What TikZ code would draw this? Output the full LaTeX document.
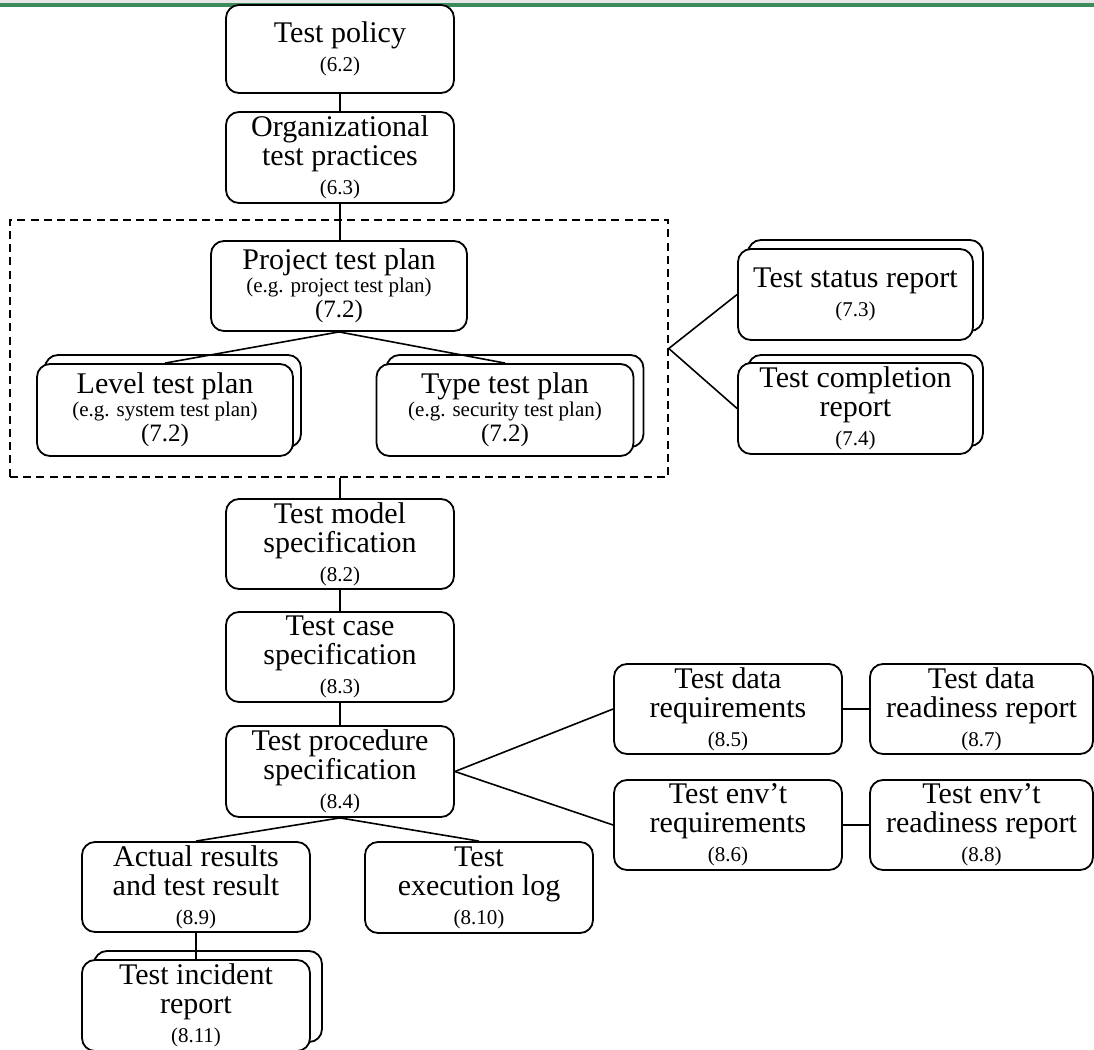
\documentclass[tikz,border=0pt]{standalone}
\usepackage{fontspec}
\setmainfont{Liberation Serif}
\newcommand{\smf}[1]{{\fontsize{10.5}{11}\selectfont #1}}
\newcommand{\mdf}[1]{{\fontsize{12.5}{13}\selectfont #1}}
\definecolor{topgreen}{HTML}{3D8B5A}
\definecolor{topgrey}{HTML}{E6E6E6}
\tikzset{
  docbox/.style={draw, line width=0.9pt, rounded corners=6.5pt, fill=white,
    align=center, inner sep=1pt, font=\fontsize{15}{14.5}\selectfont},
  backbox/.style={draw, line width=0.9pt, rounded corners=6.5pt, fill=white},
  conn/.style={line width=0.8pt},
  groupbox/.style={draw, line width=0.8pt, dash pattern=on 4pt off 2.6pt},
}
\begin{document}
\begin{tikzpicture}[x=0.5pt,y=-0.5pt]
\useasboundingbox (0,0) rectangle (1094,1050);
\clip (0,0) rectangle (1094,1050);
% top rule
\fill[topgrey] (0,0) rectangle (1094,2.5);
\fill[topgreen] (0,2.5) rectangle (1094,6.5);

% dashed group
\node[groupbox, minimum width=329pt, minimum height=128.5pt] (plans) at (339,348.5) {};

% back boxes of stacks
\node[backbox, minimum width=128pt, minimum height=46pt] (lvlb) at (173,401) {};
\node[backbox, minimum width=128.5pt, minimum height=46pt] (typb) at (515,401) {};
\node[backbox, minimum width=117.5pt, minimum height=45.5pt] (tsrb) at (865.5,285.5) {};
\node[backbox, minimum width=117.5pt, minimum height=45.5pt] (tcrb) at (865.5,400.5) {};
\node[backbox, minimum width=114pt, minimum height=45.5pt] (incb) at (208,996.5) {};

% boxes
\node[docbox, minimum width=114pt, minimum height=44pt] (pol) at (340,49) {Test policy\\\smf{(6.2)}};
\node[docbox, minimum width=114pt, minimum height=45.5pt] (org) at (340,157.5) {Organizational\\test practices\\\smf{(6.3)}};
\node[docbox, minimum width=128pt, minimum height=45pt] (ptp) at (339,286) {Project test plan\\[-3pt]\smf{(e.g. project test plan)}\\[-2pt]\mdf{(7.2)}};
\node[docbox, minimum width=128pt, minimum height=46pt] (lvl) at (165,410) {Level test plan\\[-3pt]\smf{(e.g. system test plan)}\\[-2pt]\mdf{(7.2)}};
\node[docbox, minimum width=128.5pt, minimum height=46pt] (typ) at (505,410) {Type test plan\\[-3pt]\smf{(e.g. security test plan)}\\[-2pt]\mdf{(7.2)}};
\node[docbox, minimum width=117.5pt, minimum height=45.5pt] (tsr) at (855.5,294.5) {Test status report\\\smf{(7.3)}};
\node[docbox, minimum width=117.5pt, minimum height=45.5pt] (tcr) at (855.5,408.5) {Test completion\\report\\\smf{(7.4)}};
\node[docbox, minimum width=114pt, minimum height=45pt] (tms) at (340,544) {Test model\\specification\\\smf{(8.2)}};
\node[docbox, minimum width=114pt, minimum height=45pt] (tcs) at (340,657) {Test case\\specification\\\smf{(8.3)}};
\node[docbox, minimum width=114pt, minimum height=45.5pt] (tps) at (340,771.5) {Test procedure\\specification\\\smf{(8.4)}};
\node[docbox, minimum width=114pt, minimum height=45pt] (tdr) at (728,709) {Test data\\requirements\\\smf{(8.5)}};
\node[docbox, minimum width=111.5pt, minimum height=45pt] (tdrr) at (981.5,709) {Test data\\readiness report\\\smf{(8.7)}};
\node[docbox, minimum width=114pt, minimum height=45pt] (ter) at (728,825) {Test env’t\\requirements\\\smf{(8.6)}};
\node[docbox, minimum width=111.5pt, minimum height=45pt] (terr) at (981.5,825) {Test env’t\\readiness report\\\smf{(8.8)}};
\node[docbox, minimum width=114pt, minimum height=45pt] (act) at (196,887) {Actual results\\and test result\\\smf{(8.9)}};
\node[docbox, minimum width=114pt, minimum height=45.5pt] (log) at (479,887.5) {Test\\execution log\\\smf{(8.10)}};
\node[docbox, minimum width=114pt, minimum height=45.5pt] (inc) at (196,1005.5) {Test incident\\report\\\smf{(8.11)}};

% connectors
\draw[conn] (pol.south) -- (org.north);
\draw[conn] (org.south) -- (org.south |- ptp.north);
\draw[conn] (ptp.south) -- (lvl.north);
\draw[conn] (ptp.south) -- (typ.north);
\draw[conn] (plans.east) -- (tsr.west);
\draw[conn] (plans.east) -- (tcr.west);
\draw[conn] (tms.north |- plans.south) -- (tms.north);
\draw[conn] (tms.south) -- (tcs.north);
\draw[conn] (tcs.south) -- (tps.north);
\draw[conn] (tps.east) -- (tdr.west);
\draw[conn] (tps.east) -- (ter.west);
\draw[conn] (tdr.east) -- (tdrr.west);
\draw[conn] (ter.east) -- (terr.west);
\draw[conn] (tps.south) -- (act.north);
\draw[conn] (tps.south) -- (log.north);
\draw[conn] (act.south) -- (inc.north);
\end{tikzpicture}
\end{document}
